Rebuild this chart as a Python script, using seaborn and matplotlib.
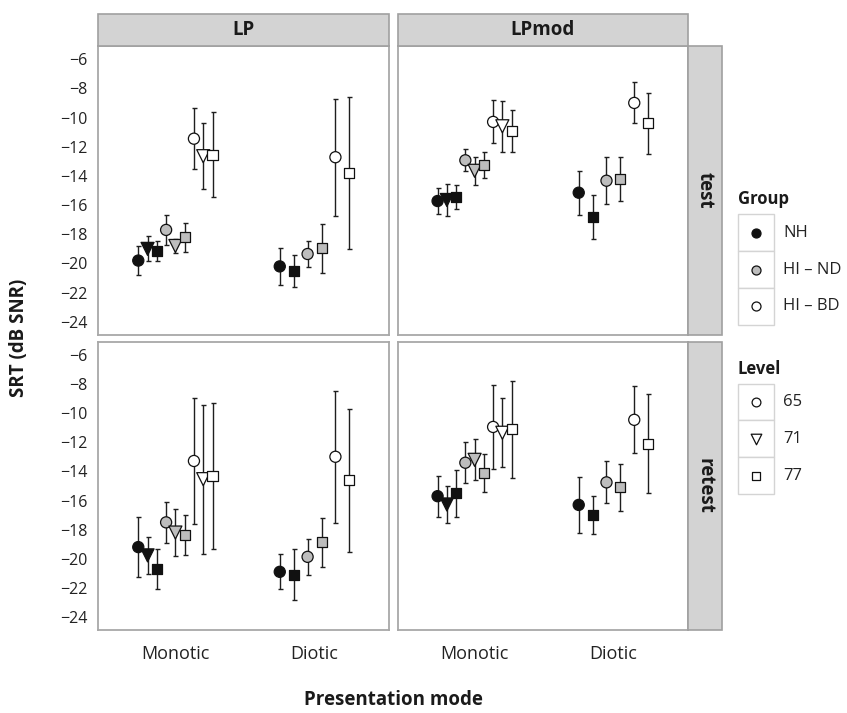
import numpy as np
import pandas as pd
import matplotlib
matplotlib.use("Agg")
import matplotlib.pyplot as plt
from matplotlib.patches import Rectangle
import seaborn as sns

# ---- data -----------------------------------------------------------------
modes = ["Monotic", "Diotic"]
filters = ["LP", "LPmod"]
sessions = ["test", "retest"]
groups = ["NH", "HI – ND", "HI – BD"]
levels = ["65", "71", "77"]

# conditions shared by every panel (the diotic mode was run at 65 and 77 dB only)
cond_mode = ["Monotic"] * 9 + ["Diotic"] * 6
cond_group = ["NH", "NH", "NH", "HI – ND", "HI – ND", "HI – ND", "HI – BD", "HI – BD", "HI – BD",
              "NH", "NH", "HI – ND", "HI – ND", "HI – BD", "HI – BD"]
cond_level = ["65", "71", "77"] * 3 + ["65", "77"] * 3

# mean SRT (dB SNR) and error-bar half width per condition
lp_test_mean = [-19.8, -19.0, -19.15, -17.7, -18.8, -18.2, -11.45, -12.65, -12.55,
                -20.2, -20.5, -19.35, -18.97, -12.72, -13.8]
lp_test_err = [1.0, 0.85, 0.7, 1.0, 0.5, 1.0, 2.1, 2.25, 2.9,
               1.28, 1.1, 0.9, 1.66, 4.0, 5.18]

lpmod_test_mean = [-15.72, -15.65, -15.45, -12.93, -13.65, -13.25, -10.3, -10.6, -10.9,
                   -15.15, -16.8, -14.33, -14.2, -9.0, -10.4]
lpmod_test_err = [0.9, 1.1, 0.85, 0.75, 0.96, 0.9, 1.47, 1.76, 1.44,
                  1.52, 1.5, 1.62, 1.52, 1.4, 2.1]

lp_retest_mean = [-19.2, -19.77, -20.7, -17.5, -18.2, -18.38, -13.28, -14.53, -14.31,
                  -20.9, -21.1, -19.87, -18.87, -12.99, -14.62]
lp_retest_err = [2.07, 1.25, 1.36, 1.4, 1.62, 1.38, 4.35, 5.13, 5.0,
                 1.2, 1.74, 1.24, 1.7, 4.53, 4.9]

lpmod_retest_mean = [-15.7, -16.27, -15.5, -13.4, -13.2, -14.1, -10.94, -11.34, -11.11,
                     -16.3, -17.0, -14.75, -15.1, -10.45, -12.08]
lpmod_retest_err = [1.4, 1.27, 1.6, 1.42, 1.4, 1.32, 2.9, 2.38, 3.36,
                    1.92, 1.32, 1.45, 1.62, 2.31, 3.4]

y_ticks = [-24, -22, -20, -18, -16, -14, -12, -10, -8, -6]

panels = {
    ("LP", "test"): (lp_test_mean, lp_test_err),
    ("LPmod", "test"): (lpmod_test_mean, lpmod_test_err),
    ("LP", "retest"): (lp_retest_mean, lp_retest_err),
    ("LPmod", "retest"): (lpmod_retest_mean, lpmod_retest_err),
}

# ---- long table with dodged x positions -------------------------------------
DODGE = 0.6
rows = []
for (flt, ses), (means, errs) in panels.items():
    for mi, mode in enumerate(modes):
        idx = [i for i, m in enumerate(cond_mode) if m == mode]
        n = len(idx)
        for k, i in enumerate(idx):
            rows.append(dict(Filter=flt, Session=ses, Mode=mode,
                             Group=cond_group[i], Level=cond_level[i],
                             x=mi + 1 + (k - (n - 1) / 2) * DODGE / n,
                             SRT=means[i], err=errs[i]))
df = pd.DataFrame(rows)

# ---- styling ----------------------------------------------------------------
sns.set_theme(style="white")
plt.rcParams["font.family"] = ["Open Sans", "DejaVu Sans"]
plt.rcParams["axes.unicode_minus"] = True

palette = {"NH": "#111111", "HI – ND": "#bdbdbd", "HI – BD": "#ffffff"}
markers = {"65": "o", "71": "v", "77": "s"}
sizes = {"65": 64, "71": 88, "77": 52}

W, H = 847, 713
g = sns.FacetGrid(df, row="Session", col="Filter", row_order=sessions, col_order=filters,
                  sharex=True, sharey=True, despine=False, height=3, aspect=1)
fig = g.figure
fig.set_size_inches(W / 100, H / 100)
fig.set_dpi(100)


def draw(data, **kws):
    ax = plt.gca()
    ax.errorbar(data["x"], data["SRT"], yerr=data["err"], fmt="none",
                ecolor="#1e1e1e", elinewidth=1.0, capsize=1.8, capthick=1.0, zorder=2)
    sns.scatterplot(data=data, x="x", y="SRT", hue="Group", style="Level", size="Level",
                    hue_order=groups, style_order=levels, size_order=levels,
                    palette=palette, markers=markers, sizes=sizes,
                    edgecolor="#111111", linewidth=0.9, legend=False, ax=ax, zorder=3)


g.map_dataframe(draw)
g.set_titles("")
g.set_axis_labels("", "")

# panel geometry in pixels (left, top, right, bottom)
col_x = [(98.3, 389.0), (397.7, 687.7)]
row_y = [(46.0, 335.0), (342.0, 630.0)]
strip_c, strip_e = "#d3d3d3", "#a0a0a0"

for r, ses in enumerate(sessions):
    for c, flt in enumerate(filters):
        ax = g.axes[r, c]
        x0, x1 = col_x[c]
        y0, y1 = row_y[r]
        ax.set_position([x0 / W, 1 - y1 / H, (x1 - x0) / W, (y1 - y0) / H])
        ax.set_xlim(0.446, 2.535)
        ax.set_ylim(-24.9, -5.1)
        ax.set_xticks([1, 2])
        ax.set_xticklabels(modes)
        ax.set_yticks(y_ticks)
        ax.set_facecolor("white")
        for sp in ax.spines.values():
            sp.set_color("#a8a8a8")
            sp.set_linewidth(1.3)
        ax.tick_params(axis="both", direction="out", color="#3a3a3a", width=0.9,
                       labelcolor="#222222")
        ax.tick_params(axis="x", length=4.5 if r == 1 else 0, labelsize=13, pad=6,
                       labelbottom=(r == 1))
        ax.tick_params(axis="y", length=4.5 if c == 0 else 0, labelsize=11.5, pad=3,
                       labelleft=(c == 0))
        ax.set_xlabel("")
        ax.set_ylabel("")
        hpx = y1 - y0
        wpx = x1 - x0
        if r == 0:
            ax.add_patch(Rectangle((0, 1), 1, 32 / hpx, transform=ax.transAxes,
                                   facecolor=strip_c, edgecolor=strip_e, linewidth=1.2,
                                   clip_on=False, zorder=5))
            ax.text(0.5, 1 + 16 / hpx, flt, transform=ax.transAxes, ha="center",
                    va="center", fontsize=13.5, fontweight="bold", color="#1a1a1a",
                    zorder=6)
        if c == 1:
            ax.add_patch(Rectangle((1, 0), 34 / wpx, 1, transform=ax.transAxes,
                                   facecolor=strip_c, edgecolor=strip_e, linewidth=1.2,
                                   clip_on=False, zorder=5))
            ax.text(1 + 17 / wpx, 0.5, ses, transform=ax.transAxes, ha="center",
                    va="center", rotation=-90, fontsize=13.5, fontweight="bold",
                    color="#1a1a1a", zorder=6)

# ---- overlay in pixel units: axis titles and legend ----------------------------
ov = fig.add_axes([0, 0, 1, 1], zorder=10)
ov.set_xlim(0, W)
ov.set_ylim(H, 0)
ov.axis("off")
ov.patch.set_alpha(0)

ov.text(393, 700, "Presentation mode", ha="center", va="center", fontsize=13.5,
        fontweight="bold", color="#1a1a1a")
ov.text(19, 338, "SRT (dB SNR)", ha="center", va="center", rotation=90,
        fontsize=13.5, fontweight="bold", color="#1a1a1a")

key_x0, key_w, key_h, lab_x = 737.7, 36.3, 36.8, 783.0


def legend_block(title, title_y, top, labels, fills, marks, msizes):
    ov.text(key_x0, title_y, title, ha="left", va="baseline", fontsize=12,
            fontweight="bold", color="#1a1a1a")
    for i, (lab, fc, mk, ms) in enumerate(zip(labels, fills, marks, msizes)):
        yt = top + i * key_h
        ov.add_patch(Rectangle((key_x0, yt), key_w, key_h, facecolor="white",
                               edgecolor="#d4d4d4", linewidth=1.0))
        ov.scatter([key_x0 + key_w / 2], [yt + key_h / 2], s=ms, marker=mk,
                   facecolor=fc, edgecolor="#111111", linewidth=0.9, zorder=3)
        ov.text(lab_x, yt + key_h / 2, lab, ha="left", va="center", fontsize=12,
                color="#222222")


legend_block("Group", 204, 214.3, groups, [palette[k] for k in groups],
             ["o", "o", "o"], [42, 42, 42])
legend_block("Level", 374, 383.5, levels, ["white"] * 3,
             [markers[k] for k in levels], [40, 58, 32])

fig.savefig("out.png", dpi=100, facecolor="white")
